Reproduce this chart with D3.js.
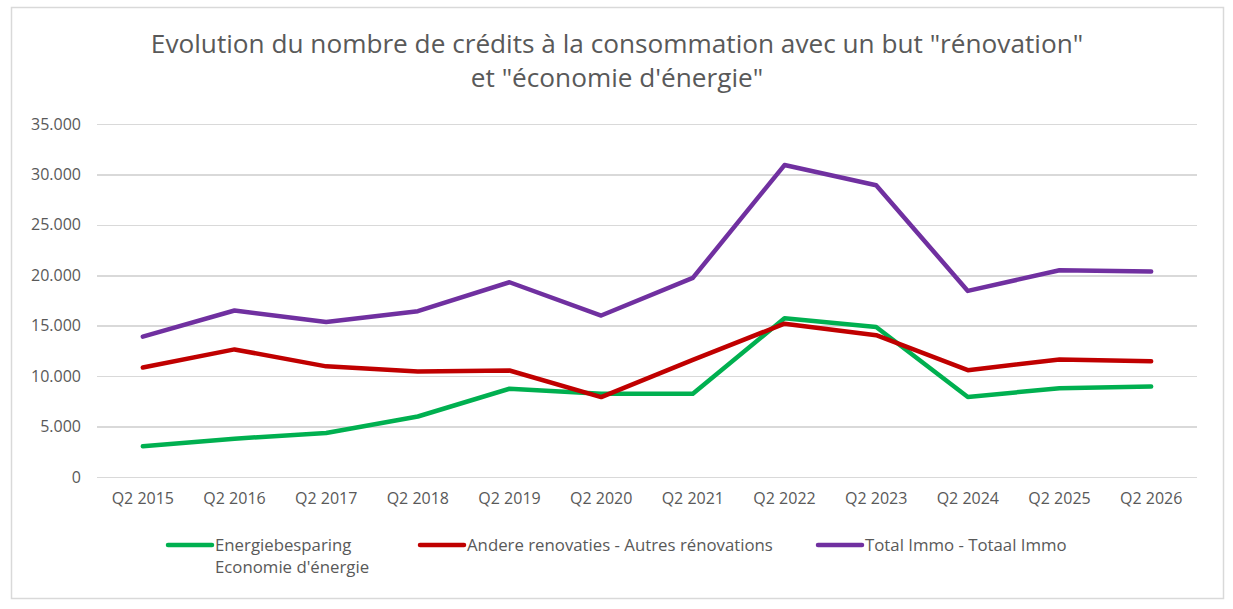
<!DOCTYPE html>
<meta charset="utf-8">
<style>
body { margin: 0; background: #fff; }
svg text { font-family: "Open Sans", sans-serif; fill: #595959; }
.grid line { stroke: #d9d9d9; stroke-width: 1.5px; shape-rendering: crispEdges; }
.series { fill: none; stroke-width: 4.5px; stroke-linejoin: round; stroke-linecap: round; }
</style>
<body>
<div id="chart"></div>
<script src="https://cdn.jsdelivr.net/npm/d3@7"></script>
<script>
var categories = ["Q2 2015","Q2 2016","Q2 2017","Q2 2018","Q2 2019","Q2 2020","Q2 2021","Q2 2022","Q2 2023","Q2 2024","Q2 2025","Q2 2026"];
var energie = [3040, 3800, 4360, 6000, 8750, 8260, 8260, 15730, 14880, 7940, 8800, 8970];
var renovaties = [10850, 12650, 10970, 10470, 10560, 7920, 11620, 15200, 14060, 10590, 11650, 11480];
var totalImmo = [13910, 16510, 15360, 16440, 19310, 16010, 19740, 30930, 28930, 18450, 20500, 20370];
var yTicks = [0, 5000, 10000, 15000, 20000, 25000, 30000, 35000];
var seriesNames = [["Energiebesparing", "Economie d'énergie"], ["Andere renovaties - Autres rénovations"], ["Total Immo - Totaal Immo"]];
var seriesColors = ["#00b050", "#c00000", "#7030a0"];
var titleLines = ["Evolution du nombre de crédits à la consommation avec un but \"rénovation\"", "et \"économie d'énergie\""];

var W = 1233, H = 609;
var margin = {top: 124, right: 36, bottom: 132, left: 97};
var width = W - margin.left - margin.right,
    height = H - margin.top - margin.bottom;

var svg = d3.select("#chart").append("svg")
    .attr("width", W)
    .attr("height", H);

// chart border
svg.append("rect")
    .attr("x", 11.5).attr("y", 7.5)
    .attr("width", 1212).attr("height", 591)
    .attr("fill", "#fff")
    .attr("stroke", "#d9d9d9")
    .attr("stroke-width", 1.5);

svg.append("g").selectAll("text")
    .data(titleLines).enter().append("text")
    .attr("x", 617)
    .attr("y", function(d, i) { return 53 + i * 34; })
    .attr("text-anchor", "middle")
    .style("font-size", "26.2px")
    .text(function(d) { return d; });

var x = d3.scaleBand().domain(categories).range([0, width]);
var y = d3.scaleLinear().domain([0, 35000]).range([height, 0]);

var g = svg.append("g")
    .attr("transform", "translate(" + margin.left + "," + margin.top + ")");

var yAxis = d3.axisLeft(y).tickValues(yTicks).tickSize(-width).tickPadding(16)
    .tickFormat(function(d) { return d === 0 ? "0" : d3.format(",")(d).replace(/,/g, "."); });

var gy = g.append("g").attr("class", "grid").call(yAxis);
gy.select(".domain").remove();
gy.selectAll("text").style("font-size", "16px");

var xAxis = d3.axisBottom(x).tickSize(0).tickPadding(16);
var gx = g.append("g").attr("transform", "translate(0," + height + ")").call(xAxis);
gx.select(".domain").remove();
gx.selectAll("text").style("font-size", "16px");

var line = d3.line()
    .x(function(d, i) { return x(categories[i]) + x.bandwidth() / 2; })
    .y(function(d) { return y(d); });

[energie, renovaties, totalImmo].forEach(function(vals, k) {
  g.append("path")
    .attr("class", "series")
    .attr("d", line(vals))
    .attr("stroke", seriesColors[k]);
});

// legend
var legendX = [168, 420, 818];
var legend = svg.append("g").selectAll("g")
    .data(seriesNames).enter().append("g")
    .attr("transform", function(d, i) { return "translate(" + legendX[i] + ",545)"; });
legend.append("line")
    .attr("x1", 0).attr("x2", 44)
    .attr("stroke", function(d, i) { return seriesColors[i]; })
    .attr("stroke-width", 4.5)
    .attr("stroke-linecap", "round");
legend.each(function(d) {
  var t = d3.select(this).append("text").attr("x", 47).attr("y", 6).style("font-size", "16.8px");
  d.forEach(function(s, j) {
    t.append("tspan").attr("x", 47).attr("dy", j ? 22 : 0).text(s);
  });
});
</script>
</body>
